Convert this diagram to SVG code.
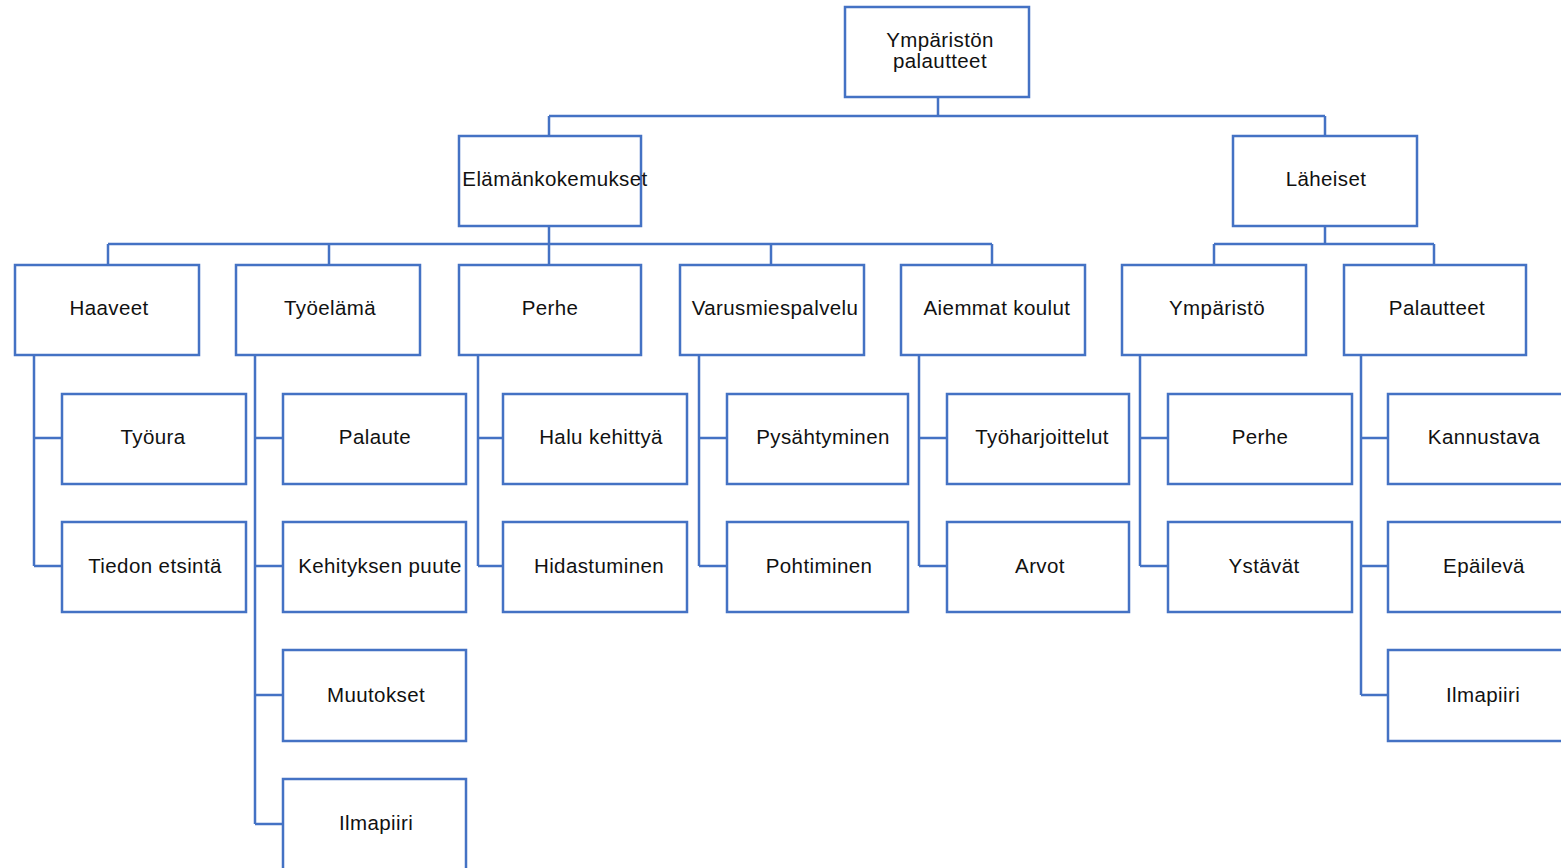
<svg xmlns="http://www.w3.org/2000/svg" width="1561" height="868" viewBox="0 0 1561 868">
<style>
rect{fill:#fff;stroke:#4472C4;stroke-width:2.5}
#connectors path{fill:none;stroke:#4472C4;stroke-width:2.5}
text{font-family:"Liberation Sans",Arial,sans-serif;font-size:20.5px;letter-spacing:0.4px;fill:#111;text-anchor:middle}
</style>
<rect x="0" y="0" width="1561" height="868" style="fill:#fff;stroke:none"/>
<g id="connectors">
<path d="M938 97V116M549 116H1325M549 116V136M1325 116V136"/>
<path d="M549 226V265M108 244H992M108 244V265M329 244V265M771 244V265M992 244V265"/>
<path d="M1325 226V244M1214 244H1434M1214 244V265M1434 244V265"/>
<path d="M34 355V566M34 438H62M34 566H62"/>
<path d="M255 355V824M255 438H283M255 566H283M255 695H283M255 824H283"/>
<path d="M478 355V566M478 438H503M478 566H503"/>
<path d="M699 355V566M699 438H727M699 566H727"/>
<path d="M919 355V566M919 438H947M919 566H947"/>
<path d="M1140 355V566M1140 438H1168M1140 566H1168"/>
<path d="M1361 355V695M1361 438H1388M1361 566H1388M1361 695H1388"/>
</g>
<g id="n-root"><rect x="845" y="7" width="184" height="90"/><text x="940" y="47">Ympäristön</text><text x="940" y="68">palautteet</text></g>
<g id="n-elama"><rect x="459" y="136" width="182" height="90"/><text x="555" y="186">Elämänkokemukset</text></g>
<g id="n-laheiset"><rect x="1233" y="136" width="184" height="90"/><text x="1326" y="186">Läheiset</text></g>
<g id="n-haaveet"><rect x="15" y="265" width="184" height="90"/><text x="109" y="315">Haaveet</text></g>
<g id="n-tyoelama"><rect x="236" y="265" width="184" height="90"/><text x="330" y="315">Työelämä</text></g>
<g id="n-perhe1"><rect x="459" y="265" width="182" height="90"/><text x="550" y="315">Perhe</text></g>
<g id="n-varus"><rect x="680" y="265" width="184" height="90"/><text x="775" y="315">Varusmiespalvelu</text></g>
<g id="n-aiemmat"><rect x="901" y="265" width="184" height="90"/><text x="997" y="315">Aiemmat koulut</text></g>
<g id="n-ymparisto"><rect x="1122" y="265" width="184" height="90"/><text x="1217" y="315">Ympäristö</text></g>
<g id="n-palautteet"><rect x="1344" y="265" width="182" height="90"/><text x="1437" y="315">Palautteet</text></g>
<g id="n-tyoura"><rect x="62" y="394" width="184" height="90"/><text x="153" y="444">Työura</text></g>
<g id="n-tiedon"><rect x="62" y="522" width="184" height="90"/><text x="155" y="573">Tiedon etsintä</text></g>
<g id="n-palaute"><rect x="283" y="394" width="183" height="90"/><text x="375" y="444">Palaute</text></g>
<g id="n-kehityksen"><rect x="283" y="522" width="183" height="90"/><text x="380" y="573">Kehityksen puute</text></g>
<g id="n-muutokset"><rect x="283" y="650" width="183" height="91"/><text x="376" y="702">Muutokset</text></g>
<g id="n-ilmapiiri1"><rect x="283" y="779" width="183" height="100"/><text x="376" y="830">Ilmapiiri</text></g>
<g id="n-halu"><rect x="503" y="394" width="184" height="90"/><text x="601" y="444">Halu kehittyä</text></g>
<g id="n-hidastuminen"><rect x="503" y="522" width="184" height="90"/><text x="599" y="573">Hidastuminen</text></g>
<g id="n-pysahtyminen"><rect x="727" y="394" width="181" height="90"/><text x="823" y="444">Pysähtyminen</text></g>
<g id="n-pohtiminen"><rect x="727" y="522" width="181" height="90"/><text x="819" y="573">Pohtiminen</text></g>
<g id="n-tyoharj"><rect x="947" y="394" width="182" height="90"/><text x="1042" y="444">Työharjoittelut</text></g>
<g id="n-arvot"><rect x="947" y="522" width="182" height="90"/><text x="1040" y="573">Arvot</text></g>
<g id="n-perhe2"><rect x="1168" y="394" width="184" height="90"/><text x="1260" y="444">Perhe</text></g>
<g id="n-ystavat"><rect x="1168" y="522" width="184" height="90"/><text x="1264" y="573">Ystävät</text></g>
<g id="n-kannustava"><rect x="1388" y="394" width="184" height="90"/><text x="1484" y="444">Kannustava</text></g>
<g id="n-epaileva"><rect x="1388" y="522" width="184" height="90"/><text x="1484" y="573">Epäilevä</text></g>
<g id="n-ilmapiiri2"><rect x="1388" y="650" width="184" height="91"/><text x="1483" y="702">Ilmapiiri</text></g>
</svg>
